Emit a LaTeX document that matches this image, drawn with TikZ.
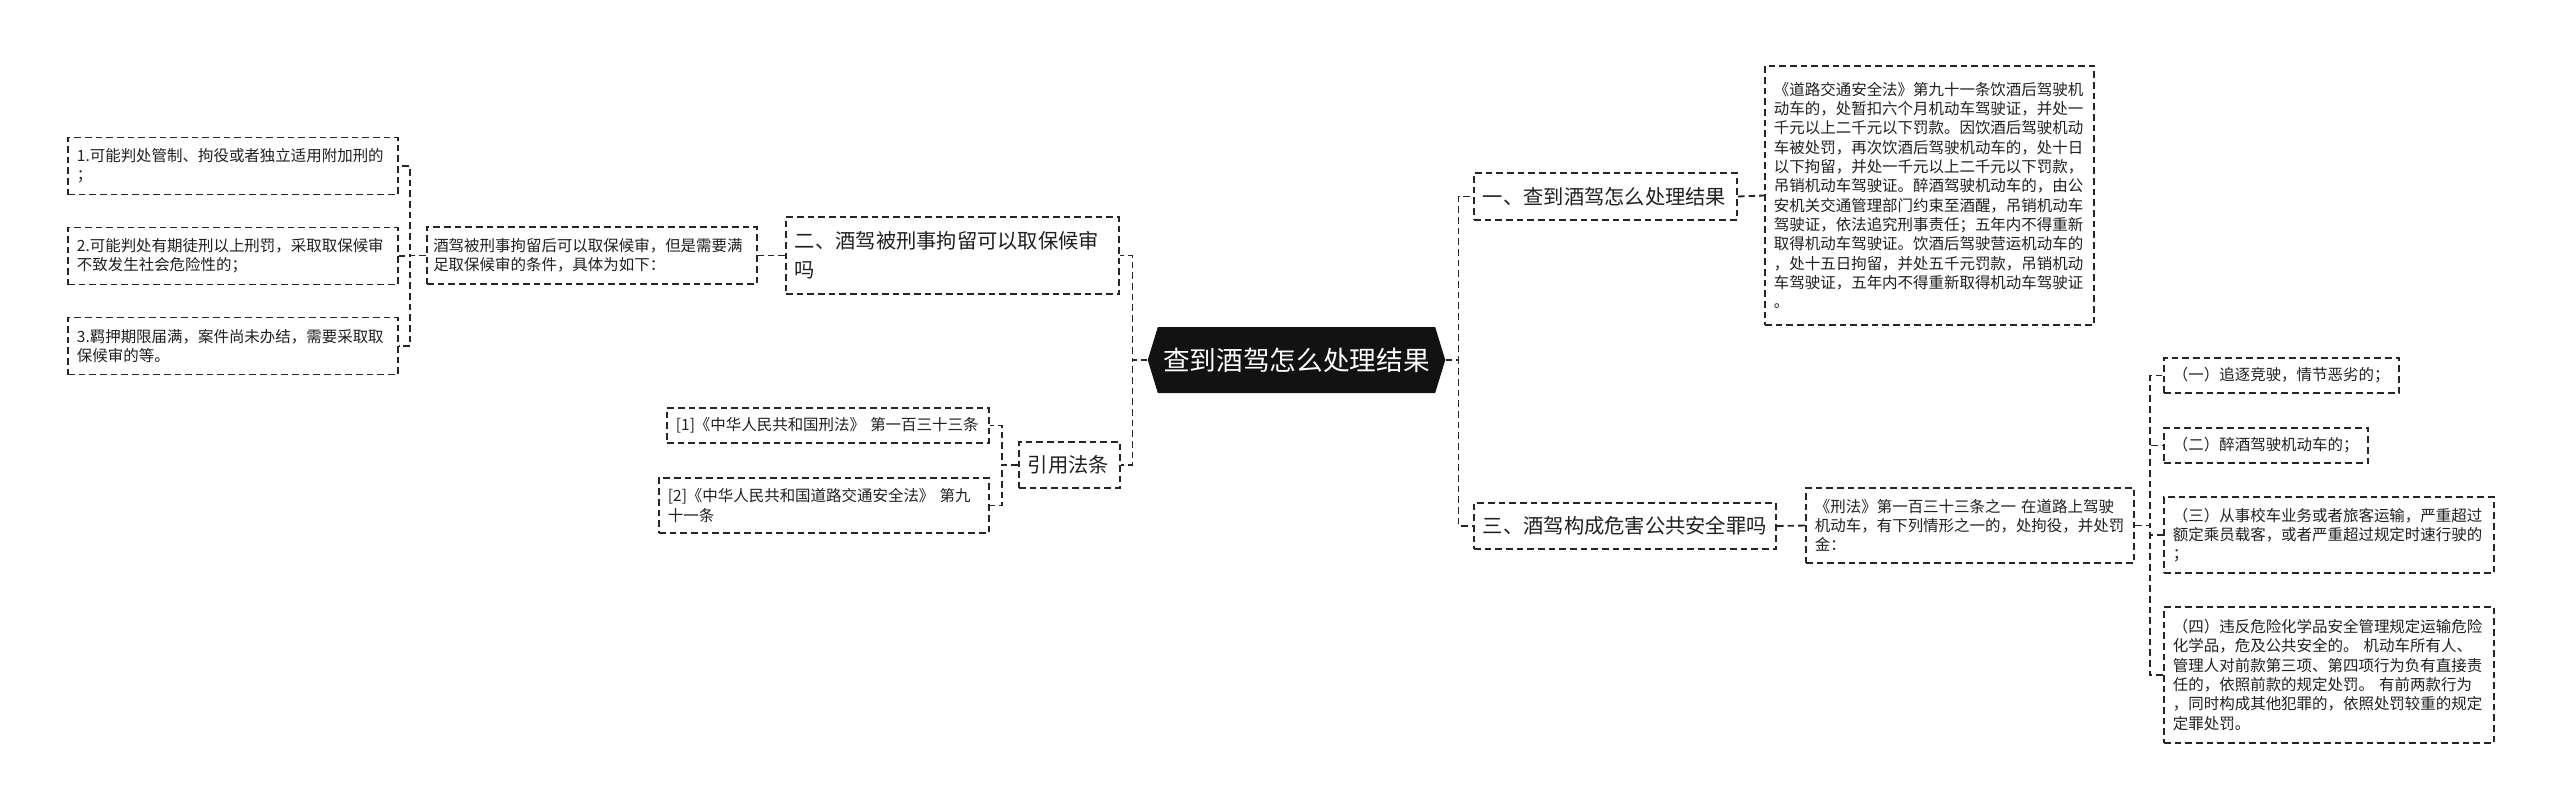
\documentclass[tikz,border=0pt]{standalone}
\usepackage{fontspec}
\newfontfamily\zhfont{Noto Sans CJK SC}
\usetikzlibrary{positioning,shapes.symbols}

\begin{document}
\begin{tikzpicture}[x=0.75pt, y=-0.75pt,
  every node/.style={font=\zhfont, text=black!88},
  box/.style={draw=black!85, line width=1.4pt, dash pattern=on 5pt off 3pt,
    anchor=west, align=left, inner xsep=6.75pt, inner ysep=2pt},
  topic/.style={box, font=\zhfont\fontsize{15.2}{22}\selectfont},
  leaf/.style={box, font=\zhfont\fontsize{11.6}{14.5}\selectfont},
  link/.style={draw=black!85, line width=1.4pt, dash pattern=on 5pt off 3pt},
  rootnode/.style={signal, signal to=west and east, signal pointer angle=146,
    fill=black!93, text=white, font=\zhfont\fontsize{20}{24}\selectfont,
    minimum width=222.75pt, minimum height=49.5pt, inner xsep=4pt}]
  \useasboundingbox (0,0) rectangle (2560,811);

  % centre
  \node[rootnode] (root) at (1296.5,360) {查到酒驾怎么处理结果};

  % right side, first topic
  \node[topic, text width=183.75pt, minimum height=35.25pt] (R1) at (1473,196.5) {一、查到酒驾怎么处理结果};
  \node[leaf, text width=233.25pt, minimum height=194.25pt] (R1a) at (1764,195.5)
    {《道路交通安全法》第九十一条饮酒后驾驶机\\
     动车的，处暂扣六个月机动车驾驶证，并处一\\
     千元以上二千元以下罚款。因饮酒后驾驶机动\\
     车被处罚，再次饮酒后驾驶机动车的，处十日\\
     以下拘留，并处一千元以上二千元以下罚款，\\
     吊销机动车驾驶证。醉酒驾驶机动车的，由公\\
     安机关交通管理部门约束至酒醒，吊销机动车\\
     驾驶证，依法追究刑事责任；五年内不得重新\\
     取得机动车驾驶证。饮酒后驾驶营运机动车的\\
     ，处十五日拘留，并处五千元罚款，吊销机动\\
     车驾驶证，五年内不得重新取得机动车驾驶证\\
     。};

  % right side, third topic
  \node[topic, text width=213pt, minimum height=34.5pt] (R3) at (1473,526) {三、酒驾构成危害公共安全罪吗};
  \node[leaf, text width=232.5pt, minimum height=56.25pt] (R3a) at (1805,525.5)
    {《刑法》第一百三十三条之一 在道路上驾驶\\
     机动车，有下列情形之一的，处拘役，并处罚\\
     金：};
  \node[leaf, text width=162.75pt, minimum height=26.25pt] (i1) at (2163,375.5) {（一）追逐竞驶，情节恶劣的；};
  \node[leaf, text width=139.5pt, minimum height=26.25pt] (i2) at (2163,445.5) {（二）醉酒驾驶机动车的；};
  \node[leaf, text width=234pt, minimum height=57pt] (i3) at (2163,535)
    {（三）从事校车业务或者旅客运输，严重超过\\
     额定乘员载客，或者严重超过规定时速行驶的\\
     ；};
  \node[leaf, text width=234pt, minimum height=102pt] (i4) at (2163,675)
    {（四）违反危险化学品安全管理规定运输危险\\
     化学品，危及公共安全的。 机动车所有人、\\
     管理人对前款第三项、第四项行为负有直接责\\
     任的，依照前款的规定处罚。 有前两款行为\\
     ，同时构成其他犯罪的，依照处罚较重的规定\\
     定罪处罚。};

  % left side, second topic
  \node[topic, text width=236.25pt, minimum height=57.75pt] (L2) at (785,255.5)
    {二、酒驾被刑事拘留可以取保候审\\吗};
  \node[leaf, text width=238pt, minimum height=42.75pt, inner xsep=4.75pt] (L2a) at (426,255.5)
    {酒驾被刑事拘留后可以取保候审，但是需要满\\足取保候审的条件，具体为如下：};
  \node[leaf, text width=234pt, minimum height=42.75pt] (a1) at (67,166)
    {1.可能判处管制、拘役或者独立适用附加刑的\\；};
  \node[leaf, text width=234pt, minimum height=42.75pt] (a2) at (67,256)
    {2.可能判处有期徒刑以上刑罚，采取取保候审\\不致发生社会危险性的；};
  \node[leaf, text width=234pt, minimum height=42.75pt] (a3) at (67,346)
    {3.羁押期限届满，案件尚未办结，需要采取取\\保候审的等。};

  % left side, citations
  \node[topic, text width=62.25pt, minimum height=34.5pt] (cite) at (1018,465) {引用法条};
  \node[leaf, text width=228pt, minimum height=26.25pt] (c1) at (666,425.5) {[1]《中华人民共和国刑法》 第一百三十三条};
  \node[leaf, text width=234pt, minimum height=41.25pt] (c2) at (658,505.5)
    {[2]《中华人民共和国道路交通安全法》 第九\\十一条};

  % connectors
  \draw[link] (root.west) -- ++(-15,0) |- (L2.east);
  \draw[link] (root.west) -- ++(-15,0) |- (cite.east);
  \draw[link] (root.east) -- ++(13,0) |- (R1.west);
  \draw[link] (root.east) -- ++(13,0) |- (R3.west);
  \draw[link] (R1.east) -- (R1a.west);
  \draw[link] (R3.east) -- (R3a.west);
  \foreach \n in {i1,i2,i3,i4}
    \draw[link] (R3a.east) -- ++(15,0) |- (\n.west);
  \draw[link] (L2.west) -- (L2a.east);
  \foreach \n in {a1,a2,a3}
    \draw[link] (L2a.west) -- ++(-16,0) |- (\n.east);
  \foreach \n in {c1,c2}
    \draw[link] (cite.west) -- ++(-16,0) |- (\n.east);
\end{tikzpicture}
\end{document}
